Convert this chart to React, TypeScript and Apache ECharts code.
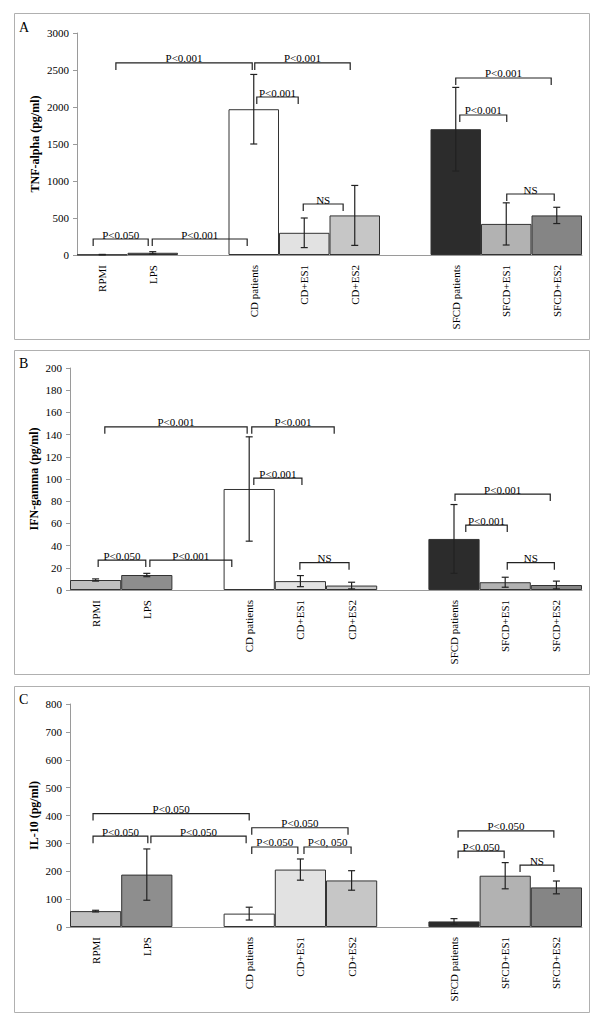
import React, { useEffect, useRef } from "react";
import * as echarts from "echarts";

const categories = ["RPMI", "LPS", "", "CD patients", "CD+ES1", "CD+ES2", "", "SFCD patients", "SFCD+ES1", "SFCD+ES2"];

const tnfMeans = [5, 30, null, 1970, 300, 535, null, 1700, 420, 535];
const tnfErrors = [3, 15, null, 470, 200, 405, null, 565, 285, 110];
const ifnMeans = [9, 13.5, null, 91, 8, 4, null, 46, 7, 4.5];
const ifnErrors = [1, 1.5, null, 47, 5, 3, null, 31, 4.5, 3.5];
const il10Means = [57, 188, null, 48, 206, 167, null, 20, 184, 142];
const il10Errors = [3, 92, null, 23, 38, 35, null, 10, 47, 23];

// significance brackets: [from slot, to slot, value level, label]
const bracketsA: [number, number, number, string][] = [
  [0.32, 1.41, 216, "P<0.050"],
  [1.49, 3.37, 216, "P<0.001"],
  [0.77, 3.47, 2595, "P<0.001"],
  [3.52, 5.41, 2595, "P<0.001"],
  [3.56, 4.38, 2135, "P<0.001"],
  [4.48, 5.27, 689, "NS"],
  [7.5, 9.39, 2392, "P<0.001"],
  [7.58, 8.51, 1892, "P<0.001"],
  [8.51, 9.45, 824, "NS"],
];
const bracketsB: [number, number, number, string][] = [
  [0.55, 1.48, 27, "P<0.050"],
  [1.56, 3.16, 27, "P<0.001"],
  [0.68, 3.46, 147, "P<0.001"],
  [3.55, 5.16, 147, "P<0.001"],
  [3.59, 4.53, 100.8, "P<0.001"],
  [4.49, 5.45, 24.6, "NS"],
  [7.52, 9.38, 86.4, "P<0.001"],
  [7.73, 8.54, 58.5, "P<0.001"],
  [8.54, 9.46, 24.6, "NS"],
];
const bracketsC: [number, number, number, string][] = [
  [0.45, 3.5, 407, "P<0.050"],
  [0.45, 1.52, 326, "P<0.050"],
  [1.58, 3.44, 326, "P<0.050"],
  [3.55, 5.43, 356, "P<0.050"],
  [3.55, 4.45, 287, "P<0.050"],
  [4.57, 5.49, 287, "P<0, 050"],
  [7.58, 9.45, 345, "P<0.050"],
  [7.58, 8.48, 272, "P<0.050"],
  [8.79, 9.45, 222, "NS"],
];

const barColors = ["#c0c0c0", "#8e8e8e", null, "#ffffff", "#e2e2e2", "#c6c6c6", null, "#2c2c2c", "#b2b2b2", "#858585"];

const FONT = "'Liberation Serif', 'Times New Roman', serif";

function App() {
  const ref = useRef<HTMLDivElement>(null);
  useEffect(() => {
    if (!ref.current) return;
    const chart = echarts.init(ref.current, null, { renderer: "svg" });

    const grids = [
      { left: 77, top: 33, width: 505, height: 222 },
      { left: 70, top: 368, width: 512, height: 222 },
      { left: 70, top: 704, width: 512, height: 223 },
    ];
    const yDefs = [
      { name: "TNF-alpha (pg/ml)", max: 3000, interval: 500, gap: 36 },
      { name: "IFN-gamma (pg/ml)", max: 200, interval: 20, gap: 30 },
      { name: "IL-10 (pg/ml)", max: 800, interval: 100, gap: 30 },
    ];
    const means = [tnfMeans, ifnMeans, il10Means];
    const errs = [tnfErrors, ifnErrors, il10Errors];
    const brackets = [bracketsA, bracketsB, bracketsC];

    const xAxis = grids.map((_, i) => ({
      type: "category",
      gridIndex: i,
      data: categories,
      axisLine: { show: true, lineStyle: { color: "#9a9a9a", width: 1 } },
      axisTick: { show: false },
      axisLabel: {
        interval: 0,
        rotate: 90,
        margin: 10,
        fontFamily: FONT,
        fontSize: 11,
        color: "#000",
      },
    }));
    const yAxis = yDefs.map((d, i) => ({
      type: "value",
      gridIndex: i,
      min: 0,
      max: d.max,
      interval: d.interval,
      name: d.name,
      nameLocation: "middle",
      nameGap: d.gap,
      nameMoveOverlap: false,
      nameTextStyle: { fontFamily: FONT, fontSize: 12, fontWeight: "bold", color: "#000" },
      axisLine: { show: true, lineStyle: { color: "#9a9a9a", width: 1 } },
      axisTick: { show: true, length: 4, lineStyle: { color: "#9a9a9a" } },
      splitLine: { show: false },
      axisLabel: {
        margin: 8,
        fontFamily: FONT,
        fontSize: 11,
        color: "#000",
        formatter: (v: number) => String(v),
      },
    }));

    const series: any[] = [];
    for (let i = 0; i < 3; i++) {
      series.push({
        type: "bar",
        xAxisIndex: i,
        yAxisIndex: i,
        barCategoryGap: "0%",
        data: means[i].map((v, k) =>
          v == null
            ? null
            : { value: v, itemStyle: { color: barColors[k], borderColor: "#333", borderWidth: 1 } }
        ),
      });
      const errData: number[][] = [];
      means[i].forEach((v, k) => {
        if (v != null) errData.push([k, v, errs[i][k] as number]);
      });
      series.push({
        type: "custom",
        xAxisIndex: i,
        yAxisIndex: i,
        z: 5,
        data: errData,
        renderItem: (params: any, api: any) => {
          const x = api.value(0);
          const m = api.value(1);
          const e = api.value(2);
          const top = api.coord([x, m + e]);
          const bot = api.coord([x, Math.max(0, m - e)]);
          const hw = 3.5;
          const st = { stroke: "#222", lineWidth: 1.2 };
          return {
            type: "group",
            children: [
              { type: "line", shape: { x1: top[0], y1: top[1], x2: bot[0], y2: bot[1] }, style: st },
              { type: "line", shape: { x1: top[0] - hw, y1: top[1], x2: top[0] + hw, y2: top[1] }, style: st },
              { type: "line", shape: { x1: bot[0] - hw, y1: bot[1], x2: bot[0] + hw, y2: bot[1] }, style: st },
            ],
          };
        },
      });
      const br = brackets[i];
      series.push({
        type: "custom",
        xAxisIndex: i,
        yAxisIndex: i,
        z: 6,
        data: br.map((b) => [0, b[2]]),
        renderItem: (params: any, api: any) => {
          const b = br[params.dataIndex];
          const c0 = api.coord([0, api.value(1)]);
          const w = api.size([1, 1])[0];
          const edge = c0[0] - w / 2;
          const x1 = edge + b[0] * w;
          const x2 = edge + b[1] * w;
          const y = c0[1];
          const drop = 7;
          const st = { stroke: "#222", lineWidth: 1.2, fill: null };
          return {
            type: "group",
            children: [
              {
                type: "polyline",
                shape: { points: [[x1, y + drop], [x1, y], [x2, y], [x2, y + drop]] },
                style: st,
              },
              {
                type: "text",
                x: (x1 + x2) / 2,
                y: y + 1,
                style: {
                  text: b[3],
                  fontFamily: FONT,
                  fontSize: 11,
                  fill: "#000",
                  align: "center",
                  verticalAlign: "bottom",
                },
              },
            ],
          };
        },
      });
    }

    const panels = [
      { y: 13, h: 326, letter: "A", ly: 20 },
      { y: 350, h: 324, letter: "B", ly: 356 },
      { y: 686, h: 326, letter: "C", ly: 692 },
    ];
    const graphic: any[] = [];
    panels.forEach((p) => {
      graphic.push({
        type: "rect",
        shape: { x: 14.5, y: p.y + 0.5, width: 575, height: p.h },
        style: { fill: "none", stroke: "#b0b0b0", lineWidth: 1 },
        silent: true,
      });
      graphic.push({
        type: "text",
        x: 19,
        y: p.ly,
        style: { text: p.letter, fontFamily: FONT, fontSize: 14, fill: "#000" },
      });
    });

    chart.setOption({
      animation: false,
      backgroundColor: "#fff",
      grid: grids,
      xAxis,
      yAxis,
      series,
      graphic,
    });
    return () => chart.dispose();
  }, []);
  return (
    <div
      ref={ref}
      style={{ position: "absolute", left: 0, top: 0, width: 600, height: 1021, background: "#fff" }}
    />
  );
}

export default App;
